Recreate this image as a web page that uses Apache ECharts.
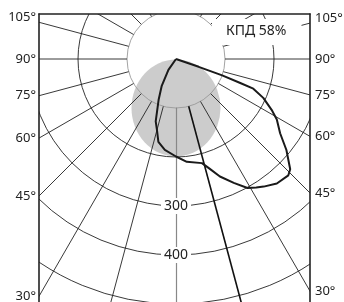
<!DOCTYPE html>
<html>
<head>
<meta charset="utf-8">
<script src="https://cdn.jsdelivr.net/npm/echarts@6/dist/echarts.min.js"></script>
<style>
  html, body { margin: 0; padding: 0; background: #fff; }
  #chart { width: 344px; height: 302px; }
</style>
</head>
<body>
<div id="chart"></div>
<script>
// углы подписей на рамке (град. от надира)
var frameAngles = [105, 90, 75, 60, 45, 30];
// подписи колец силы света
var ringLabels = [300, 400];
// КСС: угол (минус - влево) и сила света, кд/клм
var curveAngles = [-35, -35, -28, -23, -18, -15, -12, -7, 0, 6, 14, 17, 20.5, 25, 29, 32, 34.5, 39, 44, 46, 50.5, 54.5, 59, 62, 66, 69, 69.5, 70.5, 71, 72];
var curveValues = [0, 27, 62, 91, 134, 150, 173, 187, 199, 211, 219, 234, 256, 279, 301, 309, 316, 327, 330, 324, 292, 261, 240, 221, 195, 169, 140, 100, 49, 0];

// геометрия
var CX = 176, CY = 59;
var LEFT = 39, RIGHT = 310, TOP = 14, H = 302;
var R_IN = 49, R_OUT = 294;
var FONT = "'Noto Sans', sans-serif";

var curveData = curveAngles.map(function (a, i) {
  return [curveValues[i], a < 0 ? a + 360 : a];
});

// цвета лучей сетки: 0° рисует ось радиуса, 15° - отдельная толстая линия
var rayColors = [];
for (var v = 0; v <= 360; v += 15) {
  rayColors.push(v === 0 || v === 15 || v === 360 ? "rgba(0,0,0,0)" : "#222");
}
var ringColors = ["#999", "#222", "#222", "#222", "#222", "#222"];

function frameLabelValues(dx) {
  return frameAngles.map(function (a) {
    return CY + dx / Math.tan((a * Math.PI) / 180);
  });
}
function frameLabel(dx) {
  return function (v) {
    var a = Math.round((Math.atan2(dx, v - CY) * 180) / Math.PI);
    return a > 90 ? "{hi|" + a + "°}" : a + "°";
  };
}
var labelStyle = {
  fontSize: 13,
  fontFamily: FONT,
  color: "#222",
  rich: { hi: { fontSize: 13, fontFamily: FONT, color: "#222", padding: [0, 0, 10, 0] } },
};

var chart = echarts.init(document.getElementById("chart"));

var option = {
  animation: false,
  title: {
    text: "КПД 58%",
    left: 212,
    top: 19,
    padding: [5, 15, 7, 14],
    backgroundColor: "#fff",
    z: 9,
    textStyle: { fontSize: 14, fontWeight: "normal", fontFamily: FONT, color: "#222" },
  },
  polar: [
    { center: [CX, CY], radius: [R_IN, R_OUT] },
    { center: [CX, CY], radius: [0, R_OUT] },
    { center: [CX, CY], radius: [R_IN, R_OUT] },
  ],
  angleAxis: [
    {
      polarIndex: 0, type: "value", min: 0, max: 360, interval: 15,
      startAngle: 270, clockwise: false, z: 3,
      axisLine: { show: false }, axisTick: { show: false }, axisLabel: { show: false },
      splitLine: { show: true, lineStyle: { color: rayColors, width: 0.9 } },
    },
    {
      polarIndex: 1, type: "value", min: 0, max: 360,
      startAngle: 270, clockwise: false,
      axisLine: { show: false }, axisTick: { show: false }, axisLabel: { show: false },
      splitLine: { show: false },
    },
    {
      polarIndex: 2, type: "value", min: 15, max: 375, interval: 360,
      startAngle: 285, clockwise: false, z: 3,
      axisLine: { show: false }, axisTick: { show: false }, axisLabel: { show: false },
      splitLine: { show: true, lineStyle: { color: "#111", width: 1.6 } },
    },
  ],
  radiusAxis: [
    {
      polarIndex: 0, type: "value", min: 100, max: 600, interval: 100, z: 3,
      axisLine: { show: true, lineStyle: { color: "#888", width: 1.2 } },
      axisTick: { show: false }, axisLabel: { show: false },
      splitLine: { show: true, lineStyle: { color: ringColors, width: 0.9 } },
    },
    {
      polarIndex: 1, type: "value", min: 0, max: 600, z: 6,
      axisLine: { show: false }, axisTick: { show: false }, splitLine: { show: false },
      axisLabel: {
        customValues: ringLabels,
        margin: 0, align: "center", verticalAlign: "middle",
        fontSize: 14, fontFamily: FONT, color: "#222",
        backgroundColor: "#fff", padding: [1, 3],
      },
    },
    {
      polarIndex: 2, type: "value", min: 100, max: 600,
      axisLine: { show: false }, axisTick: { show: false }, axisLabel: { show: false },
      splitLine: { show: false },
    },
  ],
  // рамка и подписи углов
  grid: {
    left: LEFT, right: 344 - RIGHT, top: TOP, bottom: 0,
    containLabel: false, outerBoundsMode: "none",
  },
  xAxis: {
    type: "value", min: 0, max: 1, position: "top", z: 10,
    axisLine: { show: true, onZero: false, lineStyle: { color: "#222", width: 1.6 } },
    axisTick: { show: false }, axisLabel: { show: false }, splitLine: { show: false },
  },
  yAxis: [
    {
      type: "value", min: TOP, max: H, inverse: true, position: "left", z: 10,
      axisLine: { show: true, onZero: false, lineStyle: { color: "#222", width: 1.6 } },
      axisTick: { show: false }, splitLine: { show: false },
      axisLabel: Object.assign({
        customValues: frameLabelValues(CX - LEFT),
        formatter: frameLabel(CX - LEFT),
        margin: 3,
      }, labelStyle),
    },
    {
      type: "value", min: TOP, max: H, inverse: true, position: "right", z: 10,
      axisLine: { show: true, onZero: false, lineStyle: { color: "#222", width: 1.6 } },
      axisTick: { show: false }, splitLine: { show: false },
      axisLabel: Object.assign({
        customValues: frameLabelValues(RIGHT - CX),
        formatter: frameLabel(RIGHT - CX),
        margin: 5,
      }, labelStyle),
    },
  ],
  graphic: [
    { type: "rect", z: 8, silent: true, shape: { x: 0, y: 0, width: LEFT, height: H }, style: { fill: "#fff" } },
    { type: "rect", z: 8, silent: true, shape: { x: RIGHT, y: 0, width: 344 - RIGHT, height: H }, style: { fill: "#fff" } },
    { type: "rect", z: 8, silent: true, shape: { x: 0, y: 0, width: 344, height: TOP }, style: { fill: "#fff" } },
  ],
  series: [
    {
      // силуэт светильника
      type: "scatter", coordinateSystem: "polar", polarIndex: 1, z: 1, silent: true,
      symbol: "path://M50,0 A50,50 0 1,1 50,100 A50,50 0 1,1 50,0 Z",
      symbolKeepAspect: false,
      symbolSize: [89, 97],
      itemStyle: { color: "#bfbfbf" },
      data: [[100, 0]],
    },
    {
      type: "line", coordinateSystem: "polar", polarIndex: 1, z: 5, silent: true,
      symbol: "none", clip: false,
      lineStyle: { color: "#1a1a1a", width: 2 },
      data: curveData,
    },
  ],
};

chart.setOption(option);
</script>
</body>
</html>
